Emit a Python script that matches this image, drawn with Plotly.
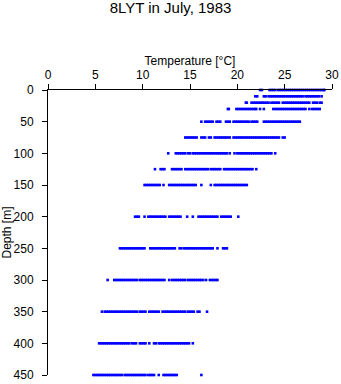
import plotly.graph_objects as go

# Sampled depths (m)
depths = [0, 10, 20, 30, 50, 75, 100, 125, 150, 200, 250, 300, 350, 400, 450]

# Temperatures (deg C) observed at each depth
t_0 = [22.4, 22.6, 23.4, 23.6, 23.8, 24.0, 24.3, 24.5, 24.7, 24.9, 25.1, 25.3, 25.5, 25.7, 25.9, 26.1, 26.3, 26.5, 26.7, 26.9, 27.1, 27.3, 27.5, 27.7, 27.9, 28.1, 28.3, 28.5, 28.7, 28.9, 29.1, 29.2]
t_10 = [21.9, 22.1, 22.8, 23.0, 23.3, 23.5, 23.7, 23.9, 24.1, 24.3, 24.5, 24.7, 24.9, 25.1, 25.3, 25.5, 25.7, 25.9, 26.1, 26.3, 26.5, 26.7, 26.9, 27.2, 27.4, 27.6, 27.8, 28.0, 28.2, 28.4, 28.6, 28.9]
t_20 = [20.9, 21.0, 21.5, 21.7, 21.9, 22.1, 22.3, 22.5, 22.7, 22.9, 23.1, 23.3, 23.6, 23.8, 24.0, 24.2, 24.4, 24.8, 25.0, 25.2, 25.4, 25.6, 25.8, 26.0, 26.2, 26.4, 26.6, 26.8, 27.0, 27.2, 27.4, 27.6, 28.0, 28.2, 28.4, 28.7, 28.9]
t_30 = [19.0, 19.1, 19.9, 20.1, 20.3, 20.5, 20.7, 20.9, 21.1, 21.3, 21.5, 21.7, 21.9, 22.0, 22.4, 22.8, 23.8, 24.0, 24.2, 24.4, 24.6, 24.8, 25.0, 25.2, 25.4, 25.6, 25.8, 26.0, 26.2, 26.4, 26.6, 26.8, 27.0, 27.2, 27.6, 27.9, 28.1, 28.3, 28.5, 28.7]
t_50 = [16.2, 16.6, 16.8, 17.0, 17.2, 17.4, 17.8, 18.0, 18.2, 18.8, 19.0, 19.2, 19.6, 19.8, 20.0, 20.2, 20.4, 20.6, 20.8, 21.0, 21.2, 21.5, 21.7, 21.9, 22.1, 22.8, 23.0, 23.2, 23.4, 23.6, 23.8, 24.0, 24.2, 24.4, 24.6, 24.8, 25.0, 25.2, 25.4, 25.6, 25.8, 26.0, 26.2, 26.4, 26.6]
t_75 = [14.5, 14.7, 14.9, 15.1, 15.3, 15.5, 15.7, 16.2, 16.4, 16.6, 17.0, 17.2, 17.6, 17.8, 18.0, 18.2, 18.4, 18.6, 18.8, 19.0, 19.2, 19.6, 19.8, 20.0, 20.2, 20.4, 20.6, 20.8, 21.0, 21.2, 21.4, 21.6, 21.8, 22.0, 22.2, 22.4, 22.6, 22.8, 23.0, 23.2, 23.4, 23.6, 23.8, 24.0, 24.2, 24.4, 24.8, 25.0]
t_100 = [12.7, 13.5, 13.7, 13.9, 14.1, 14.3, 14.5, 14.8, 15.0, 15.3, 15.5, 15.7, 15.9, 16.1, 16.3, 16.5, 16.7, 16.9, 17.1, 17.3, 17.5, 17.7, 17.9, 18.1, 18.3, 18.5, 18.7, 18.9, 19.2, 19.7, 20.0, 20.2, 20.4, 20.6, 20.8, 21.0, 21.2, 21.4, 21.6, 21.8, 22.0, 22.2, 22.4, 22.6, 22.8, 23.0, 23.2, 23.4, 23.6, 24.0]
t_125 = [11.3, 11.9, 12.1, 12.3, 13.1, 13.3, 13.5, 13.7, 13.9, 14.1, 14.5, 14.7, 14.9, 15.1, 15.3, 15.5, 15.7, 15.9, 16.1, 16.3, 16.5, 16.7, 16.9, 17.2, 17.4, 17.6, 17.8, 18.0, 18.2, 18.6, 18.8, 19.0, 19.2, 19.4, 19.6, 19.8, 20.0, 20.2, 20.4, 20.6, 20.8, 21.0, 21.2, 21.4, 21.6, 22.0]
t_150 = [10.2, 10.4, 10.6, 10.8, 11.0, 11.2, 11.4, 11.6, 11.8, 12.2, 12.8, 13.0, 13.2, 13.4, 13.6, 13.8, 14.0, 14.2, 14.4, 14.6, 14.8, 15.0, 15.2, 15.4, 15.6, 16.2, 17.2, 17.6, 17.8, 18.0, 18.2, 18.4, 18.6, 18.8, 19.0, 19.2, 19.4, 19.6, 19.8, 20.0, 20.2, 20.4, 20.6, 20.8, 21.0]
t_200 = [9.2, 9.4, 9.6, 10.2, 10.6, 10.8, 11.0, 11.2, 11.4, 11.6, 11.8, 12.0, 12.2, 12.4, 12.8, 13.0, 13.2, 13.4, 13.6, 13.8, 14.0, 14.7, 15.3, 15.9, 16.1, 16.3, 16.5, 16.7, 16.9, 17.1, 17.3, 17.5, 17.7, 17.9, 18.3, 18.5, 18.7, 18.9, 19.1, 19.3, 20.1]
t_250 = [7.6, 7.8, 8.0, 8.2, 8.4, 8.6, 8.8, 9.0, 9.2, 9.4, 9.6, 9.8, 10.0, 10.2, 10.8, 11.0, 11.2, 11.4, 11.6, 11.8, 12.0, 12.2, 12.4, 12.6, 12.8, 13.0, 13.2, 13.4, 13.9, 14.1, 14.4, 14.6, 14.8, 15.0, 15.2, 15.4, 15.6, 15.8, 16.0, 16.2, 16.4, 16.6, 16.8, 17.0, 17.2, 17.4, 17.9, 18.5, 18.7, 18.9]
t_300 = [6.3, 7.0, 7.2, 7.4, 7.6, 7.8, 8.0, 8.2, 8.4, 8.6, 8.8, 9.0, 9.2, 9.4, 9.7, 9.9, 10.1, 10.3, 10.5, 10.7, 10.9, 11.1, 11.3, 11.5, 11.7, 11.9, 12.1, 12.3, 12.8, 13.1, 13.3, 13.5, 13.7, 13.9, 14.1, 14.3, 14.5, 14.8, 15.0, 15.2, 15.4, 15.6, 15.8, 16.0, 16.2, 16.4, 16.7, 17.1, 17.3, 17.5, 17.7, 17.9]
t_350 = [5.7, 6.0, 6.2, 6.4, 6.6, 6.8, 7.0, 7.2, 7.4, 7.6, 7.8, 8.0, 8.2, 8.4, 8.6, 8.8, 9.0, 9.2, 9.4, 9.7, 9.9, 10.1, 10.3, 10.7, 10.9, 11.1, 11.3, 11.5, 11.7, 12.1, 12.3, 12.5, 12.7, 12.9, 13.1, 13.3, 13.5, 13.7, 13.9, 14.1, 14.3, 14.5, 14.8, 15.0, 15.2, 15.4, 15.8, 16.0, 16.8]
t_400 = [5.4, 5.6, 5.8, 6.0, 6.2, 6.4, 6.6, 6.8, 7.0, 7.2, 7.4, 7.6, 7.8, 8.0, 8.2, 8.4, 8.6, 8.9, 9.1, 9.3, 9.7, 9.9, 10.1, 10.3, 10.7, 11.2, 11.4, 11.7, 11.9, 12.1, 12.3, 12.5, 12.7, 12.9, 13.1, 13.3, 13.5, 13.7, 13.9, 14.1, 14.3, 14.5, 14.7, 14.9, 15.3]
t_450 = [4.8, 5.0, 5.2, 5.4, 5.6, 5.8, 6.0, 6.2, 6.4, 6.6, 6.8, 7.0, 7.2, 7.4, 7.6, 7.8, 8.1, 8.3, 8.5, 8.7, 8.9, 9.1, 9.3, 9.5, 9.7, 9.9, 10.1, 10.3, 10.6, 10.8, 11.0, 11.2, 11.7, 12.2, 12.4, 12.6, 12.8, 13.0, 13.2, 13.4, 13.6, 16.2]

temps = [t_0, t_10, t_20, t_30, t_50, t_75, t_100, t_125, t_150, t_200,
         t_250, t_300, t_350, t_400, t_450]

x_ticks = [0, 5, 10, 15, 20, 25, 30]
y_ticks = [0, 50, 100, 150, 200, 250, 300, 350, 400, 450]

xs, ys = [], []
for d, tl in zip(depths, temps):
    xs.extend(tl)
    ys.extend([d] * len(tl))

fig = go.Figure(go.Scatter(
    x=xs, y=ys, mode="markers", cliponaxis=False,
    marker=dict(symbol="square", size=2.6, color="#0000ff", line=dict(width=0)),
    hoverinfo="skip", showlegend=False,
))

font_family = "Liberation Sans, Arial, sans-serif"
fig.update_layout(
    width=341, height=384,
    margin=dict(l=48, r=9, t=90, b=9, autoexpand=False),
    paper_bgcolor="white", plot_bgcolor="white",
    font=dict(family=font_family, size=12, color="black"),
    title=dict(text="8LYT in July, 1983", x=0.5, xanchor="center",
               y=1 - 2 / 384, yanchor="top", yref="container",
               font=dict(size=15, family=font_family, color="black")),
)
fig.update_xaxes(
    side="top", range=[0, 30], tickvals=x_ticks, ticks="outside", ticklen=5,
    tickcolor="black", tickwidth=1, showline=True, linecolor="black", linewidth=1,
    showgrid=False, zeroline=False, ticklabelstandoff=0, automargin=False,
    title=dict(text="Temperature [°C]", standoff=0, font=dict(size=12)),
    tickfont=dict(size=12),
)
fig.update_yaxes(
    range=[450, 0], tickvals=y_ticks, ticks="outside", ticklen=5,
    tickcolor="black", tickwidth=1, showline=True, linecolor="black", linewidth=1,
    showgrid=False, zeroline=False, ticklabelstandoff=6, automargin=False,
    title=dict(text="Depth [m]", standoff=6, font=dict(size=12)),
    tickfont=dict(size=12),
)

fig.write_html("out.html")
